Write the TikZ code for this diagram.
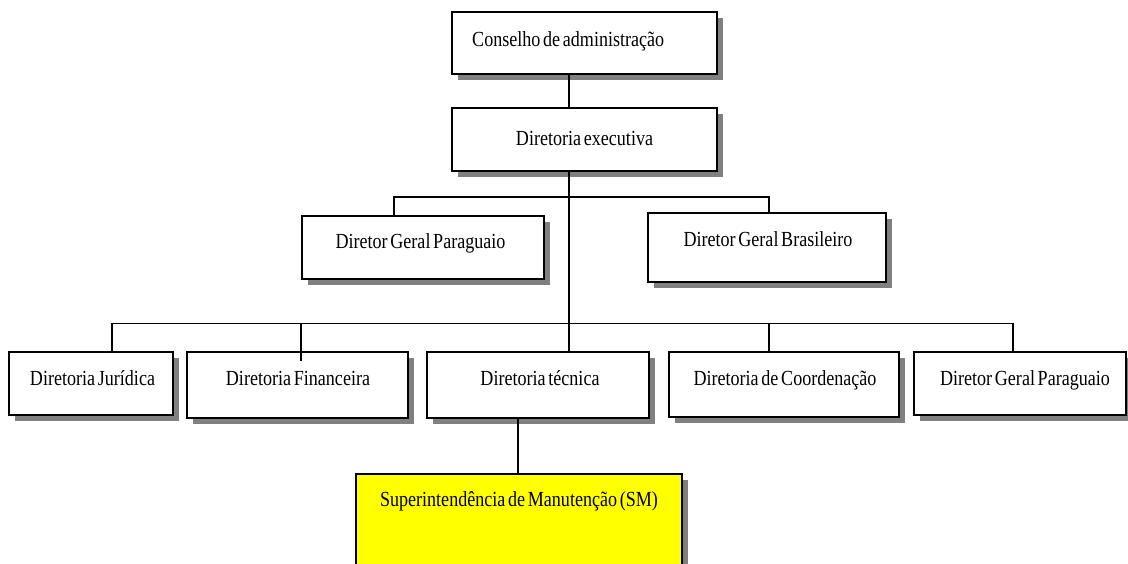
\documentclass[tikz,border=0pt]{standalone}
\usepackage{fontspec}
\setmainfont{Liberation Serif}[FakeStretch=0.84, WordSpace=0.6]
\usetikzlibrary{shadows,calc}
\definecolor{smyellow}{RGB}{255,255,0}
\definecolor{shadowgray}{RGB}{128,128,128}
\begin{document}
\begin{tikzpicture}[x=1pt,y=-1pt,
  orgbox/.style={draw=black, line width=2pt, fill=white, inner sep=0pt,
    drop shadow={shadow xshift=6pt, shadow yshift=-6pt, fill=shadowgray, opacity=1}},
  lbl/.style={inner sep=0pt, anchor=base, font=\fontsize{21.5}{25}\selectfont},
  conn/.style={draw=black, line width=1.8pt}]
\useasboundingbox (0,0) rectangle (1128,563);
% boxes
\node[orgbox, minimum width=264.7pt, minimum height=61.7pt] (cons) at (584.7,43.2) {};
\node[orgbox, minimum width=265pt, minimum height=62.4pt] (exe) at (584.5,139.5) {};
\node[orgbox, minimum width=242.3pt, minimum height=63pt] (dgp) at (422.9,247.5) {};
\node[orgbox, minimum width=237.7pt, minimum height=69pt] (dgb) at (767.2,247.2) {};
\node[orgbox, minimum width=164.3pt, minimum height=62.7pt] (jur) at (91.2,383.7) {};
\node[orgbox, minimum width=221.6pt, minimum height=66pt] (fin) at (297.5,385.3) {};
\node[orgbox, minimum width=222pt, minimum height=66pt] (tec) at (538.3,385.3) {};
\node[orgbox, minimum width=230pt, minimum height=65pt] (coo) at (784,384.8) {};
\node[orgbox, minimum width=212pt, minimum height=62.7pt] (dgp2) at (1020,383.7) {};
\node[orgbox, fill=smyellow, minimum width=325.7pt, minimum height=110pt] (sm) at (518.8,529.3) {};
% labels
\node[lbl, anchor=base west] (cons-t) at (472,46) {Conselho de administração};
\node[lbl] (exe-t) at (584.5,145) {Diretoria executiva};
\node[lbl] (dgp-t) at (420.5,248) {Diretor Geral Paraguaio};
\node[lbl] (dgb-t) at (768,246.5) {Diretor Geral Brasileiro};
\node[lbl] (jur-t) at (92.5,385.5) {Diretoria Jurídica};
\node[lbl] (fin-t) at (298,385.5) {Diretoria Financeira};
\node[lbl] (tec-t) at (540,385.5) {Diretoria técnica};
\node[lbl] (coo-t) at (785,385.5) {Diretoria de Coordenação};
\node[lbl] (dgp2-t) at (1025,385.5) {Diretor Geral Paraguaio};
\node[lbl] (sm-t) at (519,506.5) {Superintendência de Manutenção (SM)};
% connectors
\draw[conn] (cons.south -| 569.3,0) -- (exe.north -| 569.3,0);
\draw[conn] (exe.south -| 569.3,0) -- (tec.north -| 569.3,0);
\draw[conn] (dgp.north -| 394.3,0) -- (394.3,197.3) -- (769.3,197.3) -- (dgb.north -| 769.3,0);
\draw[conn] (jur.north -| 111.7,0) -- (111.7,323.5) -- (1012.7,323.5) -- (dgp2.north -| 1012.7,0);
\draw[conn] (300.7,323.5) -- ($(fin.north -| 300.7,0)+(0,9.4)$);
\draw[conn] (769.3,323.5) -- (coo.north -| 769.3,0);
\draw[conn] (tec.south -| 517.7,0) -- (sm.north -| 517.7,0);
\end{tikzpicture}
\end{document}
